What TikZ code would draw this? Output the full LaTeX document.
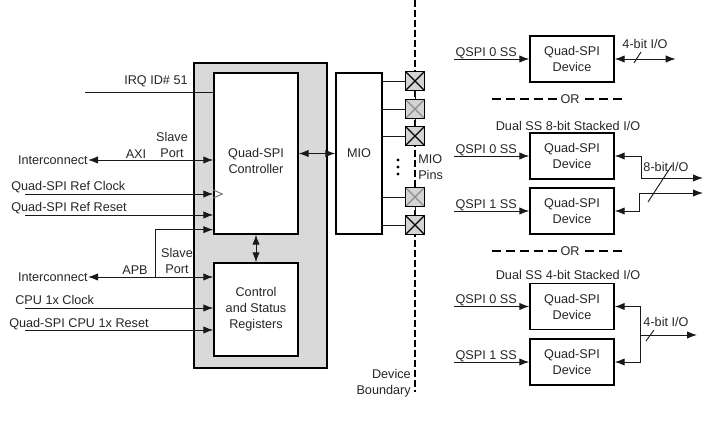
\documentclass[tikz,border=0pt]{standalone}
\usepackage{fontspec}
\setmainfont{Liberation Sans}
\usetikzlibrary{arrows.meta}

\begin{document}
\begin{tikzpicture}[
      x=0.75pt, y=-0.75pt,
      font=\fontsize{9.5}{12}\selectfont,
      every node/.style={text=black!85},
      lbl/.style={inner sep=0pt},
      block/.style={rectangle, draw, line width=1pt, align=center, fill=white, inner sep=0pt},
      core/.style={rectangle, draw, line width=1.2pt, fill=black!15, minimum width=99.75pt, minimum height=228.75pt},
      dev/.style={block, minimum width=63pt, minimum height=34.5pt},
      iopad/.style={rectangle, draw, line width=0.9pt, fill=black!17, minimum size=14pt, inner sep=0pt,
        path picture={\draw[#1, line width=0.9pt] (path picture bounding box.north west) -- (path picture bounding box.south east)
          (path picture bounding box.north east) -- (path picture bounding box.south west);}},
      sig/.style={line width=0.7pt, draw=black!90},
      arr/.style={sig, -{Latex[length=7.5pt, width=5.5pt]}},
      darr/.style={sig, {Latex[length=7.5pt, width=5.5pt]}-{Latex[length=7.5pt, width=5.5pt]}},
      ordash/.style={line width=1.1pt, dash pattern=on 7pt off 3.5pt},
      boundary/.style={line width=1.1pt, dash pattern=on 5pt off 2.5pt}
    ]
    \useasboundingbox (0,0) rectangle (720,423);

    % processing system side
    \node[core] (qspi) at (260.5,215.5) {};
    \node[block, minimum width=63pt, minimum height=120.75pt] (ctrl) at (256,153.5) {};
    \node[lbl, align=center] (ctrltext) at (256,161) {Quad-SPI\\Controller};
    \node[block, minimum width=63pt, minimum height=69.75pt] (regs) at (256,309.5) {Control\\and Status\\Registers};
    \node[block, minimum width=34.5pt, minimum height=120.75pt] (mio) at (359,153.5) {MIO};

    \draw[darr] (ctrl.south) -- (regs.north);
    \draw[darr] (ctrl.east) -- (mio.west);

    % device boundary and pins
    \coordinate (bdtop) at (415,0);
    \coordinate (bdbot) at (415,392);
    \draw[boundary] (bdtop) -- (bdbot);
    \foreach \i/\y/\c in {1/81/black, 2/109/black!45, 3/136/black, 4/197/black!45, 5/225/black}
      \node[iopad=\c] (pad\i) at (415,\y) {};
    \draw[sig] (pad1.south) -- (pad2.north) (pad2.south) -- (pad3.north) (pad4.south) -- (pad5.north);
    \foreach \i in {1,...,5}
      \draw[sig] (mio.east |- pad\i) -- (pad\i.west);
    \foreach \y in {160,167,174}
      \fill (398,\y) circle (1.3pt);
    \node[lbl, align=left, anchor=west] (pinslbl) at (418,167) {MIO\\Pins};
    \node[lbl, align=right, anchor=east] (bdlbl) at (411,383) {Device\\Boundary};

    % controller inputs
    \node[lbl, anchor=base west] (irq) at (124,85) {IRQ ID\# 51};
    \coordinate (irqin) at (85,92);
    \draw[sig] (irqin) -- (ctrl.west |- irqin);

    \node[lbl, anchor=east] (ic1) at (88,160) {Interconnect};
    \draw[darr] (ic1.east) -- (ctrl.west |- ic1.east);
    \node[lbl, anchor=base] (axi) at (136,158.5) {AXI};
    \node[lbl, align=center] (axiport) at (172,145) {Slave\\Port};

    \node[lbl, anchor=base west] (clk) at (11,191) {Quad-SPI Ref Clock};
    \coordinate (clkin) at (25,194);
    \draw[arr] (clkin) -- (ctrl.west |- clkin);
    \draw[sig, draw=black!55] (ctrl.west |- clkin) ++(0,-4) -- ++(9,4) -- ++(-9,4);

    \node[lbl, anchor=base west] (rst) at (11,212) {Quad-SPI Ref Reset};
    \coordinate (rstin) at (25,215);
    \draw[arr] (rstin) -- (ctrl.west |- rstin);

    % register inputs
    \node[lbl, anchor=east] (ic2) at (88,277) {Interconnect};
    \draw[darr] (ic2.east) -- (regs.west |- ic2.east);
    \coordinate (apbtap) at (155,277);
    \draw[arr] (apbtap) |- ([yshift=3.75pt]ctrl.south west);
    \node[lbl, anchor=base] (apb) at (135,275) {APB};
    \node[lbl, align=center] (apbport) at (177,260.5) {Slave\\Port};

    \node[lbl, anchor=base west] (cpuclk) at (15,305) {CPU 1x Clock};
    \coordinate (cpuclkin) at (25,308);
    \draw[arr] (cpuclkin) -- (regs.west |- cpuclkin);

    \node[lbl, anchor=base west] (cpurst) at (9,328) {Quad-SPI CPU 1x Reset};
    \coordinate (cpurstin) at (25,330);
    \draw[arr] (cpurstin) -- (regs.west |- cpurstin);

    % flash devices
    \node[dev] (dev1) at (572,59) {Quad-SPI\\Device};
    \node[dev] (dev2) at (572,156) {Quad-SPI\\Device};
    \node[dev] (dev3) at (572,211) {Quad-SPI\\Device};
    \node[dev] (dev4) at (572,306.5) {Quad-SPI\\Device};
    \node[dev] (dev5) at (572,362) {Quad-SPI\\Device};

    \foreach \i/\t in {1/0, 2/0, 3/1, 4/0, 5/1} {
      \coordinate (ss\i) at ([xshift=-56.25pt]dev\i.west);
      \node[lbl, anchor=base west] (sslbl\i) at ([xshift=-55.5pt, yshift=2pt]dev\i.west) {QSPI \t\ SS};
      \draw[arr] (ss\i) -- (dev\i.west);
    }

    % single device, 4-bit
    \draw[darr] (dev1.east) -- ++(61,0) coordinate (out1);
    \node[lbl] (bus1) at (645,44) {4-bit I/O};
    \draw[sig] (634,63) -- (641,52);

    \node[lbl] (or1) at (570,99) {OR};
    \draw[ordash] ([xshift=-2.5pt]or1.west) -- ++(-69,0);
    \draw[ordash] ([xshift=4pt]or1.east) -- ++(40,0);

    % stacked 8-bit
    \node[lbl] (cap8) at (568,126) {Dual SS 8-bit Stacked I/O};
    \coordinate (out8a) at (703,178);
    \coordinate (out8b) at (703,193);
    \draw[darr] (dev2.east) -- ++(27,0) |- (out8a);
    \draw[darr] (dev3.east) -- ++(25,0) |- (out8b);
    \node[lbl] (bus8) at (666,167) {8-bit I/O};
    \draw[sig] (648,202) -- (672,165);

    \node[lbl] (or2) at (570,251) {OR};
    \draw[ordash] ([xshift=-2.5pt]or2.west) -- ++(-69,0);
    \draw[ordash] ([xshift=4pt]or2.east) -- ++(40,0);

    % stacked 4-bit
    \node[lbl] (cap4) at (568,275) {Dual SS 4-bit Stacked I/O};
    \draw[darr] (dev4.east) -- ++(26,0) |- (dev5.east);
    \coordinate (junc4) at (640,335);
    \coordinate (out4) at (697,335);
    \draw[arr] (junc4) -- (out4);
    \node[lbl] (bus4) at (666,322) {4-bit I/O};
    \draw[sig] (646,341) -- (654,330);
  \end{tikzpicture}
\end{document}
